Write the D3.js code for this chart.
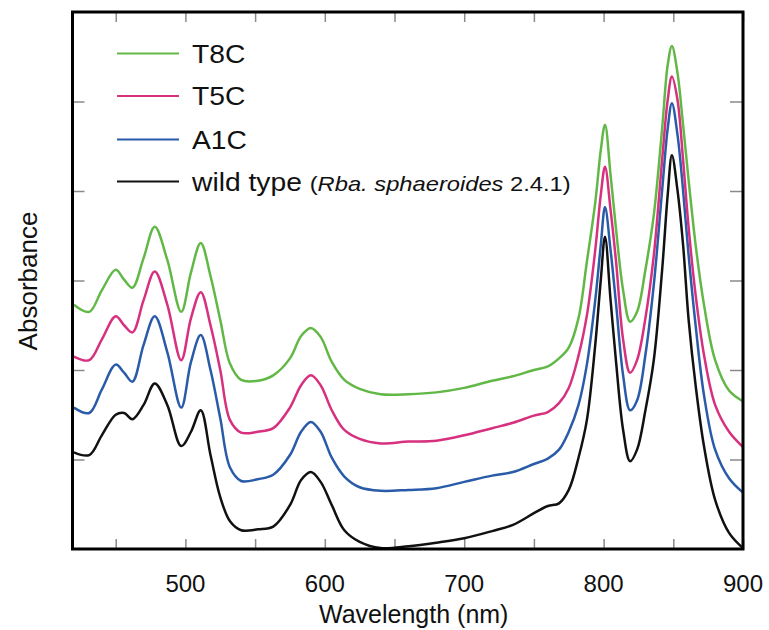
<!DOCTYPE html>
<html>
<head>
<meta charset="utf-8">
<script src="https://cdn.jsdelivr.net/npm/d3@7/dist/d3.min.js"></script>
<style>
  body { margin: 0; background: #fff; }
  text { font-family: "Liberation Sans", Arial, sans-serif; fill: #111; }
</style>
</head>
<body>
<script>
//data
var wavelength = [420, 431, 440, 450, 456, 462, 470, 478, 487, 497, 504, 511, 518, 525, 532, 540, 552, 563, 575, 583,
  590, 597, 605, 614, 625, 640, 660, 680, 700, 720, 735, 750, 760, 768, 775, 782, 788, 794, 798, 801,
  805, 809, 814, 819, 824, 830, 836, 842, 846, 849, 853, 857, 861, 866, 872, 880, 890, 900];

var t8c = [0.273, 0.265, 0.289, 0.312, 0.301, 0.292, 0.325, 0.360, 0.323, 0.265, 0.309, 0.342, 0.305, 0.256, 0.207, 0.189, 0.188, 0.194, 0.213, 0.238,
  0.247, 0.237, 0.209, 0.189, 0.179, 0.173, 0.173, 0.175, 0.180, 0.188, 0.193, 0.200, 0.204, 0.213, 0.225, 0.258, 0.321, 0.387, 0.446, 0.474,
  0.418, 0.356, 0.289, 0.254, 0.265, 0.312, 0.373, 0.470, 0.541, 0.562, 0.532, 0.474, 0.412, 0.340, 0.273, 0.211, 0.177, 0.165];

var t5c = [0.215, 0.211, 0.234, 0.260, 0.250, 0.242, 0.278, 0.310, 0.273, 0.211, 0.258, 0.287, 0.250, 0.200, 0.144, 0.130, 0.131, 0.135, 0.158, 0.183,
  0.194, 0.183, 0.155, 0.133, 0.123, 0.118, 0.120, 0.121, 0.127, 0.135, 0.141, 0.149, 0.153, 0.163, 0.180, 0.216, 0.261, 0.334, 0.396, 0.427,
  0.379, 0.320, 0.234, 0.197, 0.211, 0.258, 0.328, 0.435, 0.502, 0.528, 0.502, 0.435, 0.359, 0.284, 0.217, 0.161, 0.131, 0.114];

var a1c = [0.158, 0.152, 0.178, 0.206, 0.197, 0.187, 0.228, 0.260, 0.220, 0.158, 0.209, 0.239, 0.200, 0.146, 0.091, 0.076, 0.078, 0.083, 0.105, 0.131,
  0.142, 0.131, 0.102, 0.081, 0.069, 0.065, 0.066, 0.068, 0.075, 0.082, 0.086, 0.095, 0.101, 0.111, 0.131, 0.161, 0.206, 0.278, 0.340, 0.382,
  0.334, 0.273, 0.194, 0.155, 0.166, 0.217, 0.295, 0.401, 0.470, 0.498, 0.463, 0.401, 0.328, 0.250, 0.172, 0.111, 0.079, 0.063];

var wild = [0.108, 0.105, 0.127, 0.150, 0.152, 0.145, 0.161, 0.185, 0.161, 0.115, 0.131, 0.155, 0.105, 0.058, 0.031, 0.021, 0.022, 0.025, 0.049, 0.077,
  0.086, 0.075, 0.049, 0.021, 0.008, 0.001, 0.003, 0.007, 0.012, 0.020, 0.027, 0.040, 0.048, 0.051, 0.066, 0.102, 0.144, 0.228, 0.301, 0.349,
  0.278, 0.208, 0.133, 0.098, 0.111, 0.155, 0.211, 0.312, 0.396, 0.440, 0.401, 0.340, 0.256, 0.183, 0.115, 0.055, 0.018, 0.001];

var seriesNames = ["T8C", "T5C", "A1C", "wild type"];
var seriesColours = ["#62b846", "#d6307f", "#2a5ba8", "#111111"];
var seriesValues = [t8c, t5c, a1c, wild];

var xTicks = [500, 600, 700, 800, 900];
var xMinorTicks = [450, 500, 550, 600, 650, 700, 750, 800, 850, 900];
var yTicks = [0.1, 0.2, 0.3, 0.4, 0.5];

//layout (plot_ prefix, "top" is taken by window.top)
var width = 769;
var height = 630;
var plot_left = 72.5, plot_right = 743, plot_top = 12, plot_bottom = 549;

var svg = d3.select("body").append("svg")
    .attr("width", width)
    .attr("height", height);

var x = d3.scaleLinear().domain([419, 900]).range([plot_left, plot_right]);
var y = d3.scaleLinear().domain([0, 0.6]).range([plot_bottom, plot_top]);

//clip so the curves stop at the frame
svg.append("clipPath").attr("id", "plotclip")
    .append("rect")
    .attr("x", plot_left).attr("y", plot_top)
    .attr("width", plot_right - plot_left).attr("height", plot_bottom - plot_top);

//inward ticks on all four sides
var tickGroup = svg.append("g");

tickGroup.append("g").attr("transform", "translate(0," + plot_bottom + ")")
    .call(d3.axisBottom(x).tickValues(xMinorTicks).tickSizeInner(-10).tickSizeOuter(0).tickFormat(""));
tickGroup.append("g").attr("transform", "translate(0," + plot_top + ")")
    .call(d3.axisTop(x).tickValues(xMinorTicks).tickSizeInner(-10).tickSizeOuter(0).tickFormat(""));
tickGroup.append("g").attr("transform", "translate(" + plot_left + ",0)")
    .call(d3.axisLeft(y).tickValues(yTicks).tickSizeInner(-12).tickSizeOuter(0).tickFormat(""));
tickGroup.append("g").attr("transform", "translate(" + plot_right + ",0)")
    .call(d3.axisRight(y).tickValues(yTicks).tickSizeInner(-13).tickSizeOuter(0).tickFormat(""));

tickGroup.selectAll(".domain").remove();
tickGroup.selectAll("line").attr("stroke", "#8a8a8a").attr("stroke-width", 1.5);

//x tick labels
svg.append("g").selectAll("text")
    .data(xTicks)
    .enter()
    .append("text")
    .attr("x", function (d) { return x(d) })
    .attr("y", 592)
    .attr("text-anchor", "middle")
    .style("font-size", "24px")
    .text(function (d) { return d });

//axis titles
svg.append("text")
    .attr("x", (plot_left + plot_right) / 2 + 6)
    .attr("y", 623)
    .attr("text-anchor", "middle")
    .style("font-size", "25px")
    .text("Wavelength (nm)");

svg.append("text")
    .attr("transform", "translate(37,281) rotate(-90)")
    .attr("text-anchor", "middle")
    .style("font-size", "26px")
    .text("Absorbance");

//curves
var line = d3.line()
    .x(function (d) { return x(d[0]) })
    .y(function (d) { return y(d[1]) })
    .curve(d3.curveCatmullRom.alpha(0.5));

var plot = svg.append("g").attr("clip-path", "url(#plotclip)");

for (var s = seriesValues.length - 1; s >= 0; s--) {
    var pts = wavelength.map(function (w, i) { return [w, seriesValues[s][i]] });
    plot.append("path")
        .attr("d", line(pts))
        .attr("fill", "none")
        .attr("stroke", seriesColours[s])
        .attr("stroke-width", 2.5)
        .attr("stroke-linejoin", "round");
}

//frame
svg.append("rect")
    .attr("x", plot_left).attr("y", plot_top)
    .attr("width", plot_right - plot_left).attr("height", plot_bottom - plot_top)
    .attr("fill", "none")
    .attr("stroke", "#000")
    .attr("stroke-width", 3);

//legend, text stretched a little sideways like the original
var legendY = [53.5, 96, 139.5, 181.5];
var legend = svg.append("g");

seriesNames.forEach(function (name, i) {
    legend.append("line")
        .attr("x1", 117).attr("x2", 179)
        .attr("y1", legendY[i]).attr("y2", legendY[i])
        .attr("stroke", seriesColours[i])
        .attr("stroke-width", 2);

    var t = legend.append("text")
        .attr("transform", "translate(192," + (legendY[i] + 9) + ") scale(1.13,1)")
        .style("font-size", "25px");

    if (i < 3) {
        t.text(name);
    } else {
        t.append("tspan").text(name + " ");
        t.append("tspan").style("font-size", "21px").text("(");
        t.append("tspan").style("font-size", "21px").style("font-style", "italic").text("Rba. sphaeroides");
        t.append("tspan").style("font-size", "21px").text(" 2.4.1)");
    }
});
</script>
</body>
</html>
